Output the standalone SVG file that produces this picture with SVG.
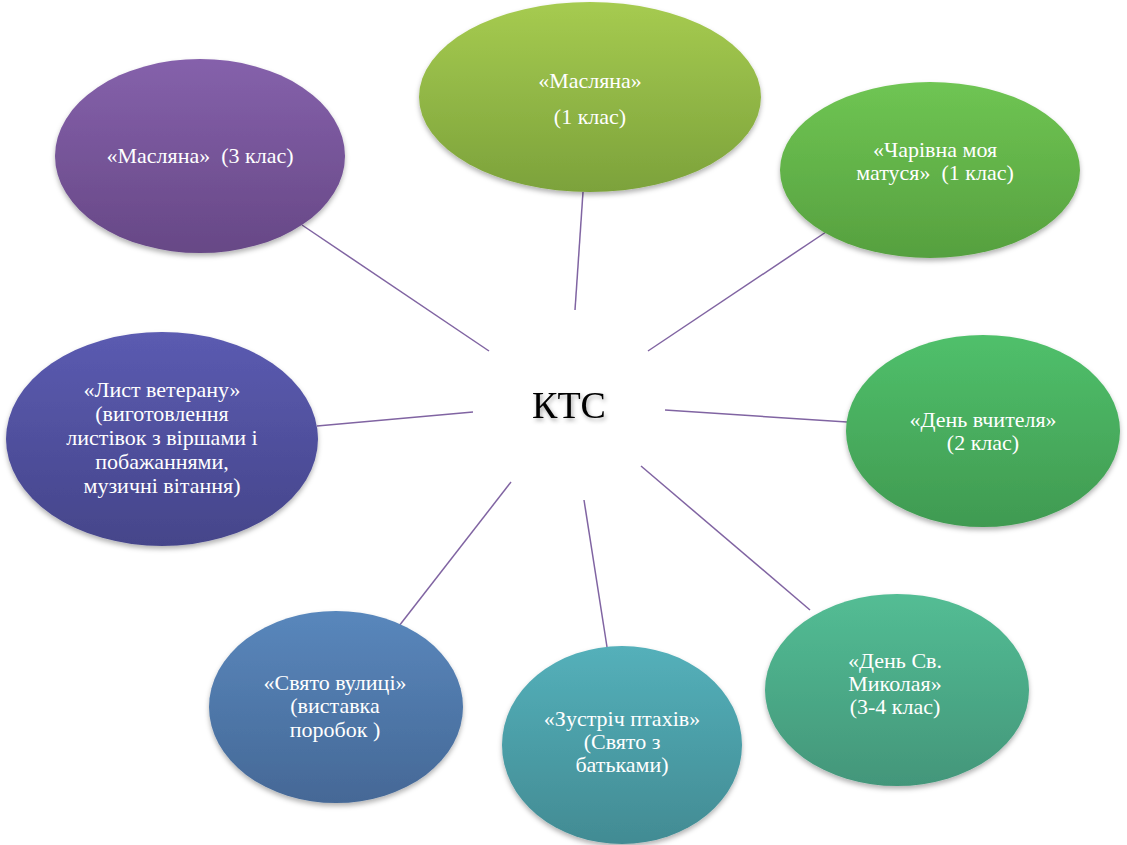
<svg xmlns="http://www.w3.org/2000/svg" width="1127" height="845" viewBox="0 0 1127 845" font-family="Liberation Serif, Times New Roman, DejaVu Serif, serif">
<style>
.lbl{font-size:22px;fill:#ffffff;text-anchor:middle}
.ctr{font-size:38px;fill:#000000;text-anchor:middle}
.conn line{stroke:#8064a2;stroke-width:1.5}
ellipse{filter:url(#sh)}
</style>
<defs>
<filter id="sh" x="-10%" y="-10%" width="120%" height="125%"><feDropShadow dx="0" dy="3" stdDeviation="2.5" flood-color="#000" flood-opacity="0.3"/></filter>
<filter id="tsh" x="-20%" y="-20%" width="140%" height="150%"><feDropShadow dx="1.5" dy="2.5" stdDeviation="2" flood-color="#000" flood-opacity="0.35"/></filter>
<linearGradient id="g1" x1="0" y1="0" x2="0" y2="1"><stop offset="0" stop-color="#a6cb50"/><stop offset="1" stop-color="#7ca23b"/></linearGradient>
<linearGradient id="g2" x1="0" y1="0" x2="0" y2="1"><stop offset="0" stop-color="#6fc553"/><stop offset="1" stop-color="#56a03f"/></linearGradient>
<linearGradient id="g3" x1="0" y1="0" x2="0" y2="1"><stop offset="0" stop-color="#50c06b"/><stop offset="1" stop-color="#409a51"/></linearGradient>
<linearGradient id="g4" x1="0" y1="0" x2="0" y2="1"><stop offset="0" stop-color="#53bd94"/><stop offset="1" stop-color="#43967a"/></linearGradient>
<linearGradient id="g5" x1="0" y1="0" x2="0" y2="1"><stop offset="0" stop-color="#54b0ba"/><stop offset="1" stop-color="#428b93"/></linearGradient>
<linearGradient id="g6" x1="0" y1="0" x2="0" y2="1"><stop offset="0" stop-color="#5987bc"/><stop offset="1" stop-color="#456896"/></linearGradient>
<linearGradient id="g7" x1="0" y1="0" x2="0" y2="1"><stop offset="0" stop-color="#5b5bb1"/><stop offset="1" stop-color="#45458a"/></linearGradient>
<linearGradient id="g8" x1="0" y1="0" x2="0" y2="1"><stop offset="0" stop-color="#8561ab"/><stop offset="1" stop-color="#674886"/></linearGradient>
</defs>
<rect width="1127" height="845" fill="#ffffff"/>
<g id="connectors" class="conn">
<line x1="575" y1="310" x2="583" y2="192"/>
<line x1="648" y1="351" x2="829" y2="230"/>
<line x1="665" y1="410" x2="847" y2="422"/>
<line x1="641" y1="466" x2="810" y2="610"/>
<line x1="584" y1="500" x2="607" y2="647"/>
<line x1="511" y1="482" x2="399" y2="626"/>
<line x1="473" y1="412" x2="317" y2="426"/>
<line x1="489" y1="351" x2="302" y2="225"/>
</g>
<g id="center"><text class="ctr" x="569" y="418" filter="url(#tsh)">КТС</text></g>
<g id="n1"><ellipse cx="590" cy="97" rx="171" ry="95" fill="url(#g1)"/>
<text class="lbl" x="590" y="88">«Масляна»</text><text class="lbl" x="590" y="124">(1 клас)</text></g>
<g id="n2"><ellipse cx="930" cy="170" rx="150" ry="88" fill="url(#g2)"/>
<text class="lbl" x="935" y="157">«Чарівна моя</text><text class="lbl" x="935" y="180" xml:space="preserve">матуся»  (1 клас)</text></g>
<g id="n3"><ellipse cx="983" cy="431" rx="137" ry="96" fill="url(#g3)"/>
<text class="lbl" x="983" y="427">«День вчителя»</text><text class="lbl" x="983" y="450">(2 клас)</text></g>
<g id="n4"><ellipse cx="897" cy="690" rx="132" ry="96" fill="url(#g4)"/>
<text class="lbl" x="895" y="668">«День Св.</text><text class="lbl" x="895" y="691">Миколая»</text><text class="lbl" x="895" y="714">(3-4 клас)</text></g>
<g id="n5"><ellipse cx="622" cy="745" rx="120" ry="99" fill="url(#g5)"/>
<text class="lbl" x="622" y="726">«Зустріч птахів»</text><text class="lbl" x="622" y="749">(Свято з</text><text class="lbl" x="622" y="772">батьками)</text></g>
<g id="n6"><ellipse cx="336" cy="707" rx="127" ry="96" fill="url(#g6)"/>
<text class="lbl" x="335" y="690">«Свято вулиці»</text><text class="lbl" x="335" y="713">(виставка</text><text class="lbl" x="335" y="737">поробок )</text></g>
<g id="n7"><ellipse cx="162" cy="439" rx="156" ry="107" fill="url(#g7)"/>
<text class="lbl" x="162" y="397">«Лист ветерану»</text><text class="lbl" x="162" y="421">(виготовлення</text><text class="lbl" x="162" y="445">листівок з віршами і</text><text class="lbl" x="162" y="469">побажаннями,</text><text class="lbl" x="162" y="493">музичні вітання)</text></g>
<g id="n8"><ellipse cx="200" cy="156" rx="145" ry="97" fill="url(#g8)"/>
<text class="lbl" x="200" y="163" xml:space="preserve">«Масляна»  (3 клас)</text></g>
</svg>
